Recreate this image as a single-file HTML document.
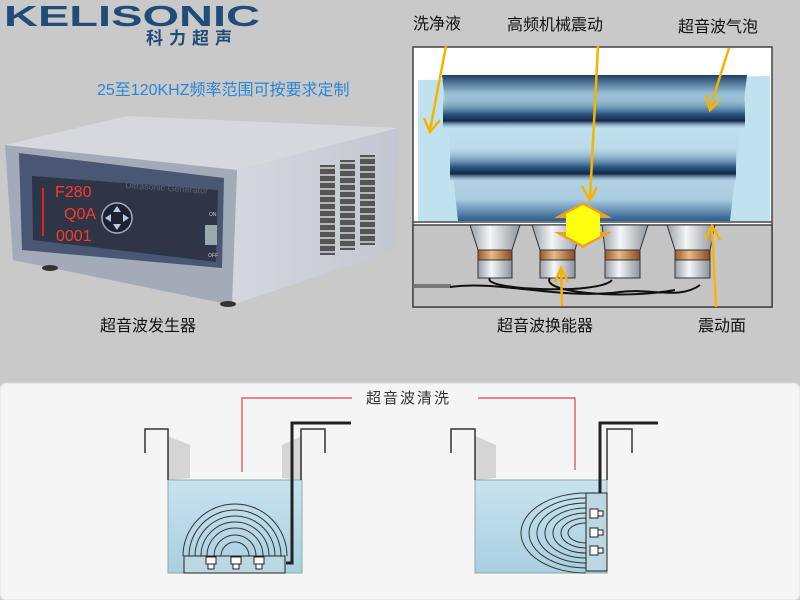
<!DOCTYPE html>
<html><head><meta charset="utf-8"><style>
html,body{margin:0;padding:0;width:800px;height:600px;overflow:hidden;background:#c9c9c9}
text{font-family:"Liberation Sans","Noto Sans CJK SC",sans-serif}
</style></head><body>
<svg width="800" height="600" viewBox="0 0 800 600" xmlns="http://www.w3.org/2000/svg">
<defs>
<linearGradient id="band" x1="0" y1="0" x2="0" y2="1">
<stop offset="0" stop-color="#c4e2ee" stop-opacity="0"/><stop offset="0.6" stop-color="#2e5a85"/><stop offset="0.8" stop-color="#12284a"/><stop offset="1" stop-color="#9fc6da" stop-opacity="0.2"/></linearGradient>
<linearGradient id="wave" x1="0" y1="0" x2="0" y2="1">
<stop offset="0" stop-color="#1f3f66"/><stop offset="0.12" stop-color="#8fb9d0"/><stop offset="0.3" stop-color="#c4e2ee"/><stop offset="0.85" stop-color="#aacde0"/><stop offset="1" stop-color="#2a5a8e"/></linearGradient>
<linearGradient id="cyl" x1="0" y1="0" x2="1" y2="0">
<stop offset="0" stop-color="#9aa0a8"/><stop offset="0.4" stop-color="#f4f6f8"/><stop offset="1" stop-color="#8e949c"/></linearGradient>
<linearGradient id="ring" x1="0" y1="0" x2="1" y2="0">
<stop offset="0" stop-color="#9a5a2a"/><stop offset="0.4" stop-color="#e9b98a"/><stop offset="1" stop-color="#8a4a20"/></linearGradient>
<linearGradient id="tw" x1="0" y1="0" x2="0" y2="1">
<stop offset="0" stop-color="#c7e3ef"/><stop offset="1" stop-color="#a9cfe0"/></linearGradient>
<linearGradient id="side" x1="0" y1="0" x2="1" y2="0">
<stop offset="0" stop-color="#d4d7de"/><stop offset="1" stop-color="#c3c7d0"/></linearGradient>
</defs>
<rect width="800" height="380" fill="#c9c9c9"/>
<!-- logo -->
<text x="4" y="26" font-size="29" font-weight="bold" fill="#1f4c78" textLength="256" lengthAdjust="spacingAndGlyphs">KELISONIC</text>
<text x="146" y="44" font-size="17" font-weight="bold" fill="#1f4c78" letter-spacing="6">科力超声</text>
<text x="97" y="95" font-size="16" fill="#2a86d6">25至120KHZ频率范围可按要求定制</text>
<!-- generator -->
<polygon points="5,145 127,116 398,128 237,170" fill="#d6d8dd"/>
<polygon points="237,170 398,128 395,250 232,305" fill="url(#side)"/>
<polygon points="5,145 237,170 232,305 13,260" fill="#a3abb9"/>
<polygon points="19,153 224,178 222,268 22,250" fill="#4a5774"/>
<polygon points="32,176 218,190 216,262 33,240" fill="#2e3546"/>
<g fill="#555">
<rect x="320" y="165" width="15" height="90"/><rect x="340" y="160" width="15" height="90"/><rect x="360" y="155" width="15" height="90"/></g>
<g stroke="#d8d8d8" stroke-width="1.5">
<path d="M320 168h15M320 175h15M320 182h15M320 189h15M320 196h15M320 203h15M320 210h15M320 217h15M320 224h15M320 231h15M320 238h15M320 245h15M320 252h15"/>
<path d="M340 163h15M340 170h15M340 177h15M340 184h15M340 191h15M340 198h15M340 205h15M340 212h15M340 219h15M340 226h15M340 233h15M340 240h15M340 247h15"/>
<path d="M360 158h15M360 165h15M360 172h15M360 179h15M360 186h15M360 193h15M360 200h15M360 207h15M360 214h15M360 221h15M360 228h15M360 235h15M360 242h15"/></g>
<rect x="42" y="188" width="2" height="48" fill="#d22"/>
<text x="55" y="197" font-size="16" fill="#ff3a2a" font-family="Liberation Mono">F280</text>
<text x="64" y="219" font-size="16" fill="#ff3a2a" font-family="Liberation Mono">Q0A</text>
<text x="56" y="241" font-size="16" fill="#ff3a2a" font-family="Liberation Mono">0001</text>
<circle cx="117" cy="218" r="15" fill="#1d2230" stroke="#aab" stroke-width="1.5"/>
<g fill="#b8c8e8"><polygon points="117,206 113,212 121,212"/><polygon points="117,230 113,224 121,224"/><polygon points="105,218 111,214 111,222"/><polygon points="129,218 123,214 123,222"/></g>
<text x="125" y="188" font-size="9" fill="#5a6275" font-family="Liberation Serif" transform="rotate(4 125 188)">Ultrasonic Generator</text>
<text x="209" y="216" font-size="5" fill="#ccc">ON</text><text x="208" y="257" font-size="5" fill="#ccc">OFF</text>
<rect x="205" y="225" width="12" height="20" fill="#9aa"/>
<ellipse cx="50" cy="268" rx="8" ry="3" fill="#333"/><ellipse cx="228" cy="304" rx="8" ry="3" fill="#333"/>
<text x="100" y="331" font-size="16" fill="#111">超音波发生器</text>
<!-- right diagram -->
<text x="413" y="29" font-size="16" fill="#111">洗净液</text>
<text x="507" y="30" font-size="16" fill="#111">高频机械震动</text>
<text x="678" y="32" font-size="16" fill="#111">超音波气泡</text>
<rect x="413" y="47" width="359" height="260" fill="#fff" stroke="#444" stroke-width="1.5"/>
<rect x="413" y="225" width="359" height="82" fill="#c4c4c4" stroke="#444" stroke-width="1.5"/>
<line x1="413" y1="222" x2="772" y2="222" stroke="#444" stroke-width="1.5"/>
<path d="M418,80 L770,76 L770,221 L418,221Z" fill="#bfe2ee"/>
<polygon points="442,75 747,75 730,221 458,221" fill="url(#wave)"/>
<rect x="443" y="92" width="302" height="36" fill="url(#band)"/>
<rect x="450" y="145" width="286" height="36" fill="url(#band)"/>
<g>
<polygon points="470,225 520,225 512,250 478,250" fill="url(#cyl)" stroke="#333"/><rect x="478" y="250" width="34" height="10" fill="url(#ring)" stroke="#333"/><rect x="478" y="260" width="34" height="18" fill="url(#cyl)" stroke="#333"/>
<polygon points="532,225 582,225 575,250 540,250" fill="url(#cyl)" stroke="#333"/><rect x="540" y="250" width="35" height="10" fill="url(#ring)" stroke="#333"/><rect x="540" y="260" width="35" height="18" fill="url(#cyl)" stroke="#333"/>
<polygon points="602,225 648,225 640,250 605,250" fill="url(#cyl)" stroke="#333"/><rect x="605" y="250" width="35" height="10" fill="url(#ring)" stroke="#333"/><rect x="605" y="260" width="35" height="18" fill="url(#cyl)" stroke="#333"/>
<polygon points="667,225 715,225 710,250 675,250" fill="url(#cyl)" stroke="#333"/><rect x="675" y="250" width="35" height="10" fill="url(#ring)" stroke="#333"/><rect x="675" y="260" width="35" height="18" fill="url(#cyl)" stroke="#333"/>
</g>
<rect x="413" y="284" width="38" height="4" fill="#777"/>
<path d="M450,287 C500,280 560,300 620,292 C650,288 680,300 700,285 M490,278 C480,290 600,295 612,280 M550,278 C540,292 620,300 675,290" stroke="#111" stroke-width="2" fill="none"/>
<polygon points="583,202 612,218 597,218 597,232 612,232 583,248 554,232 569,232 569,218 554,218" fill="#f0a020"/>
<polygon points="583,205 600,214 600,236 583,245 566,236 566,214" fill="#ffff10"/>
<g stroke="#f5b400" stroke-width="2.5" fill="none">
<path d="M446,46 L430,130 M424,118 L430,132 L440,120"/>
<path d="M598,46 L590,198 M582,186 L590,200 L597,187"/>
<path d="M729,48 L710,108 M706,95 L710,110 L720,100"/>
<path d="M562,306 L561,270 M555,282 L561,268 L568,282"/>
<path d="M716,307 L712,228 M705,240 L712,226 L720,240"/>
</g>
<text x="497" y="331" font-size="16" fill="#111">超音波换能器</text>
<text x="698" y="331" font-size="16" fill="#111">震动面</text>
<!-- bottom panel -->
<rect x="0" y="383" width="800" height="217" rx="6" fill="#f5f5f5" stroke="#ddd"/>
<path d="M242,472 V398 H352 M478,398 H575 V470" stroke="#e04050" stroke-width="1.2" fill="none"/>
<text x="366" y="403" font-size="15" fill="#333" font-family="Liberation Serif,Noto Serif CJK SC,serif" letter-spacing="2">超音波清洗</text>
<!-- left tank -->
<polygon points="168,436 190,445 190,478 168,480" fill="#d5d5d5"/>
<polygon points="302,436 282,445 282,478 302,480" fill="#d5d5d5"/>
<rect x="168" y="480" width="134" height="93" fill="url(#tw)" stroke="#8aa"/>
<path d="M145,453 V429 H168 V480 M301,480 V429 H325 V453" stroke="#333" stroke-width="1.5" fill="none"/>
<g stroke="#333" fill="none" stroke-width="1">
<path d="M183,556 A52,52 0 0 1 287,556"/><path d="M189,556 A46,46 0 0 1 281,556"/><path d="M195,556 A40,40 0 0 1 275,556"/><path d="M201,556 A34,34 0 0 1 269,556"/><path d="M207,556 A28,28 0 0 1 263,556"/><path d="M214,556 A21,21 0 0 1 256,556"/><path d="M221,556 A14,14 0 0 1 249,556"/></g>
<rect x="184" y="556" width="101" height="17" fill="#bcd6e2" stroke="#222"/>
<g fill="#fff" stroke="#222"><rect x="206" y="557" width="10" height="7"/><rect x="208" y="564" width="6" height="5"/><rect x="231" y="557" width="10" height="7"/><rect x="233" y="564" width="6" height="5"/><rect x="254" y="557" width="10" height="7"/><rect x="256" y="564" width="6" height="5"/></g>
<path d="M351,423 H292 V563 H286" stroke="#222" stroke-width="3" fill="none"/>
<!-- right tank -->
<polygon points="475,436 496,445 496,478 475,480" fill="#d5d5d5"/>
<rect x="475" y="480" width="132" height="93" fill="url(#tw)" stroke="#8aa"/>
<path d="M451,453 V429 H475 V480 M607,480 V429 H632 V453" stroke="#333" stroke-width="1.5" fill="none"/>
<g stroke="#333" fill="none" stroke-width="1">
<path d="M586,493 A65,40 0 0 0 586,573"/>
<path d="M586,498 A57,35 0 0 0 586,568"/>
<path d="M586,503 A49,30 0 0 0 586,563"/>
<path d="M586,508 A41,25 0 0 0 586,558"/>
<path d="M586,513 A33,20 0 0 0 586,553"/>
<path d="M586,518 A25,15 0 0 0 586,548"/>
<path d="M586,523 A18,10 0 0 0 586,543"/>
</g>
<rect x="586" y="493" width="21" height="78" fill="#bcd6e2" stroke="#222"/>
<g fill="#fff" stroke="#222"><rect x="590" y="509" width="8" height="9"/><rect x="598" y="511" width="5" height="5"/><rect x="590" y="528" width="8" height="9"/><rect x="598" y="530" width="5" height="5"/><rect x="590" y="546" width="8" height="9"/><rect x="598" y="548" width="5" height="5"/></g>
<path d="M658,423 H600 V493" stroke="#222" stroke-width="3" fill="none"/>
</svg>
</body></html>
